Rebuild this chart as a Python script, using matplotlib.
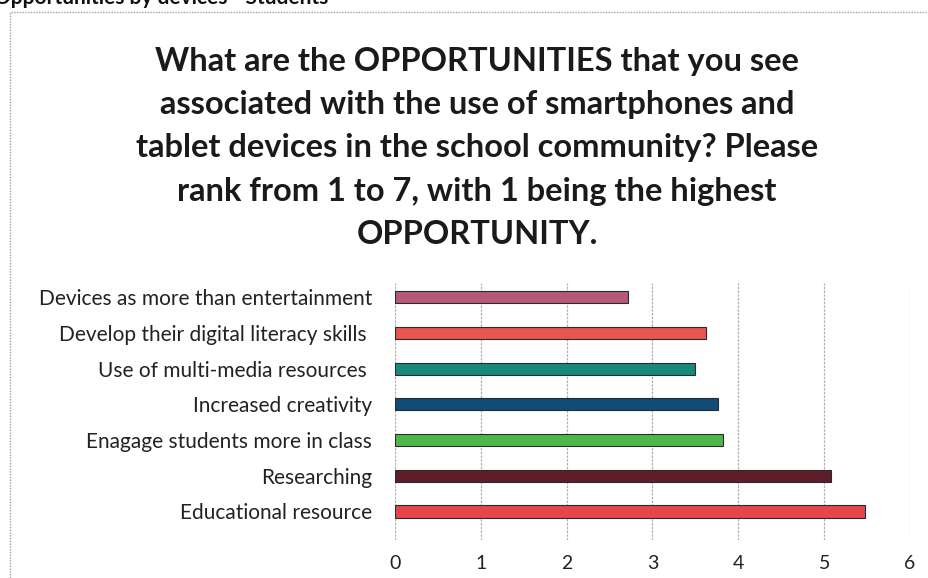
import matplotlib
matplotlib.use("Agg")
import matplotlib.pyplot as plt
from matplotlib.patches import Rectangle

categories = [
    "Educational resource",
    "Researching",
    "Enagage students more in class",
    "Increased creativity",
    "Use of multi-media resources ",
    "Develop their digital literacy skills ",
    "Devices as more than entertainment",
]
scores = [5.48, 5.08, 3.82, 3.76, 3.49, 3.62, 2.72]
bar_colors = ["#e8444c", "#5c1f2a", "#4db849", "#114b78",
              "#178a7a", "#eb5550", "#b5587a"]
x_ticks = [0, 1, 2, 3, 4, 5, 6]

title = ("What are the OPPORTUNITIES that you see\n"
         "associated with the use of smartphones and\n"
         "tablet devices in the school community? Please\n"
         "rank from 1 to 7, with 1 being the highest\n"
         "OPPORTUNITY.")

plt.rcParams["font.family"] = ["Lato", "DejaVu Sans"]

W, H = 929, 578
fig = plt.figure(figsize=(W / 100, H / 100), dpi=100)
fig.patch.set_facecolor("white")

# page heading, mostly cut off at the top edge
fig.text(-0.006, 1.0 + 2 / H, "Opportunities by devices - Students",
         fontsize=15, fontweight="bold", ha="left", va="center", color="#111111")

# dotted frame around the chart
fig.patches.append(Rectangle((10 / W, -0.05), 1.0, 1 - 12 / H + 0.05,
                             transform=fig.transFigure, fill=False,
                             edgecolor="#a0a0a0", linewidth=1.0,
                             linestyle=(0, (1, 1))))

fig.text(477 / W, 1 - 148 / H, title, ha="center", va="center",
         fontsize=23.5, fontweight="bold", color="#1a1a1a", linespacing=1.6)

ax = fig.add_axes([395 / W, 1 - 540 / H, (910 - 395) / W, (540 - 283) / H])
ypos = list(range(len(categories)))
ax.barh(ypos, scores, height=0.34, color=bar_colors,
        edgecolor="#2a2a2a", linewidth=0.8, zorder=3)

ax.set_xlim(0, 6)
ax.set_ylim(-0.8, 6.4)
ax.set_xticks(x_ticks)
ax.set_xticklabels([str(t) for t in x_ticks], fontsize=14, color="#222222")
ax.set_yticks(ypos)
ax.set_yticklabels(categories, fontsize=15, color="#222222")
ax.tick_params(axis="both", length=0)
ax.tick_params(axis="x", pad=11)
ax.tick_params(axis="y", pad=16.5)
ax.xaxis.grid(True, color="#b0b0b0", linewidth=0.9, linestyle=(0, (2, 1)))
ax.set_axisbelow(True)
for s in ax.spines.values():
    s.set_visible(False)

fig.savefig("out.png", dpi=100, facecolor="white")
